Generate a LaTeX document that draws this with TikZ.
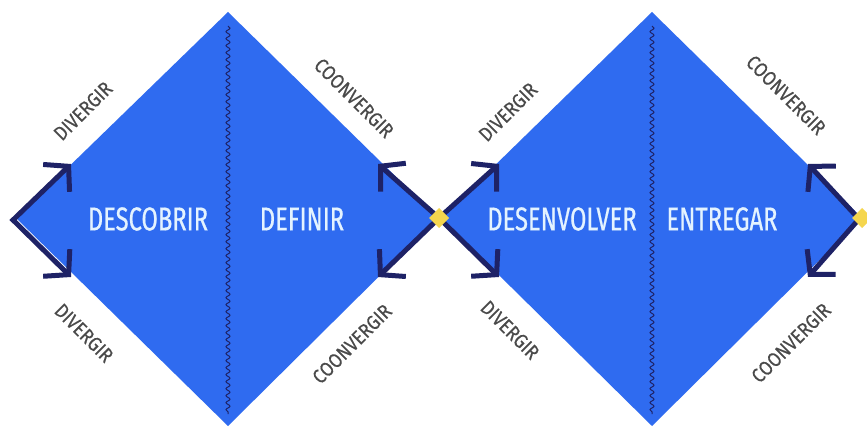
\documentclass[tikz,border=0pt]{standalone}
\usepackage{fontspec}
\usetikzlibrary{arrows.meta,decorations.pathmorphing}
\newfontfamily\condmain[FakeStretch=0.72,FakeBold=0.6]{Fira Sans}
\newfontfamily\condlab[FakeStretch=0.88,FakeBold=0.4]{Fira Sans}
\definecolor{dblue}{HTML}{2F6BF0}
\definecolor{navy}{HTML}{1E2266}
\definecolor{ltext}{HTML}{E4F3FF}
\definecolor{gtext}{HTML}{4A4A4A}
\definecolor{ydot}{HTML}{F5D64E}
\tikzset{
  diam/.style={fill=dblue,draw=none},
  wavy/.style={draw=navy,line width=1pt,decorate,decoration={snake,segment length=7pt,amplitude=2pt}},
  arr/.style={draw=navy,line width=5pt,line join=miter,{Straight Barb[length=17pt,width=38pt,line join=miter]}-{Straight Barb[length=17pt,width=38pt,line join=miter]}},
  phase/.style={text=ltext,font=\condmain\fontsize{33}{33}\selectfont,inner sep=0pt},
  lab/.style={text=gtext,font=\condlab\fontsize{20}{20}\selectfont,inner sep=0pt},
  ydia/.style={fill=ydot,draw=none}
}
\begin{document}
\begin{tikzpicture}[x=1pt,y=-1pt]
\useasboundingbox[fill=white] (0,0) rectangle (867,427);
% diamonds
\fill[diam] (228,12) -- (438,218) -- (228,426) -- (16,218) -- cycle;
\fill[diam] (652,12) -- (862,218) -- (652,426) -- (441,218) -- cycle;
% wavy dividers
\draw[wavy] (228,26) -- (228,414);
\draw[wavy] (652,26) -- (652,414);
% vertices and tips
\coordinate (L) at (13,220);
\coordinate (M) at (439,218);
\coordinate (R) at (859,219);
\coordinate (t1) at (71,164);
\coordinate (b1) at (71,277);
\coordinate (t2) at (378,164);
\coordinate (b2) at (378,277);
\coordinate (t3) at (499,164);
\coordinate (b3) at (499,277);
\coordinate (t4) at (808,164);
\coordinate (b4) at (808,277);
\draw[arr] (t1) -- (L) -- (b1);
\draw[arr] (t2) -- (M) -- (b3);
\draw[arr] (b2) -- (M) -- (t3);
\draw[arr] (t4) -- (R) -- (b4);
% yellow markers
\fill[ydia] (439,208) -- (449,218) -- (439,228) -- (429,218) -- cycle;
\fill[ydia] (862,208) -- (872,218) -- (862,228) -- (852,218) -- cycle;
% phase texts
\node[phase] (p1) at (148,219) {DESCOBRIR};
\node[phase] (p2) at (302,219) {DEFINIR};
\node[phase] (p3) at (562,219) {DESENVOLVER};
\node[phase] (p4) at (722,219) {ENTREGAR};
% labels
\node[lab,rotate=45] (d1) at (83,111) {DIVERGIR};
\node[lab,rotate=-45] (d2) at (84,333) {DIVERGIR};
\node[lab,rotate=-45] (c1) at (354,98) {COONVERGIR};
\node[lab,rotate=45] (c2) at (352,344) {COONVERGIR};
\node[lab,rotate=45] (d3) at (508,112) {DIVERGIR};
\node[lab,rotate=-45] (d4) at (510,330) {DIVERGIR};
\node[lab,rotate=-45] (c3) at (786,95) {COONVERGIR};
\node[lab,rotate=45] (c4) at (791,343) {COONVERGIR};
\end{tikzpicture}
\end{document}
